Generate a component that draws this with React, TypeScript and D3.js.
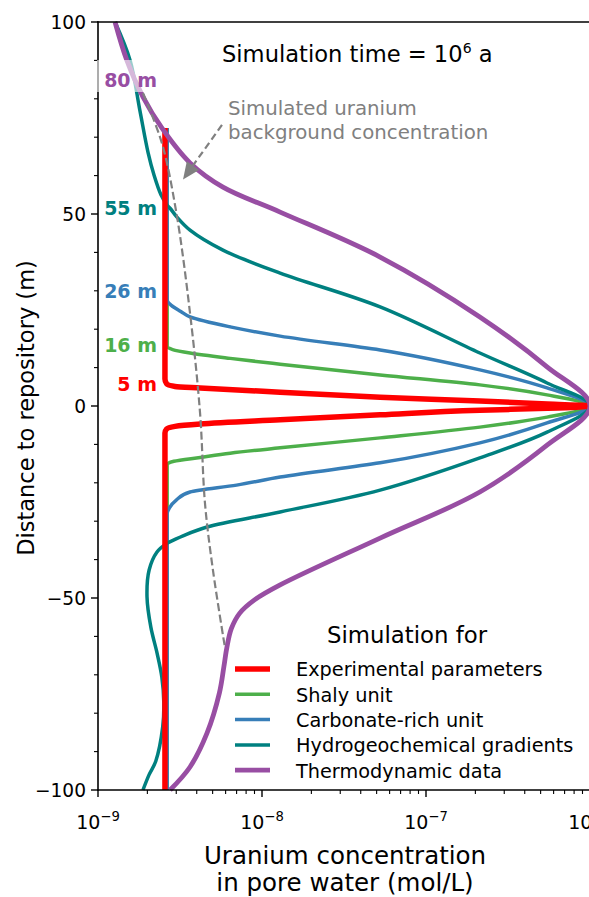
import React from "react";
import * as d3 from "d3";

// [distance to repository (m), uranium concentration (mol/L)]
const experimental: [number, number][] = [
  [72.4, 2.56e-9], [7.0, 2.56e-9], [5.8, 2.62e-9], [5.1, 2.95e-9], [4.7, 4.2e-9], [3.6, 1.29e-8],
  [2.3, 5.25e-8], [1.3, 2.13e-7], [0.5, 5.5e-7], [0, 1e-6], [-0.6, 5.5e-7], [-1.1, 2.13e-7],
  [-2.3, 5.25e-8], [-3.6, 1.29e-8], [-4.7, 4.2e-9], [-5.3, 2.95e-9], [-6.0, 2.62e-9], [-7.0, 2.56e-9],
  [-100, 2.56e-9],
];
const shaly: [number, number][] = [
  [72.4, 2.64e-9], [15.4, 2.64e-9], [14.7, 2.85e-9], [13.8, 3.64e-9], [12.4, 6.4e-9], [10.9, 1.29e-8],
  [8.1, 5.25e-8], [5.5, 2.13e-7], [2.9, 5.47e-7], [0, 1e-6], [-2.9, 5.47e-7], [-5.5, 2.13e-7],
  [-8.3, 5.25e-8], [-10.9, 1.29e-8], [-12.3, 6.4e-9], [-13.4, 4.2e-9], [-14.4, 2.9e-9], [-15.2, 2.64e-9],
  [-100, 2.64e-9],
];
const carbonate: [number, number][] = [
  [72.4, 2.64e-9], [27.6, 2.64e-9], [26.2, 2.8e-9], [24.6, 3.2e-9], [23.2, 3.64e-9], [20.6, 6.4e-9],
  [18.2, 1.29e-8], [14.6, 5.25e-8], [9.4, 2.13e-7], [4.7, 5.47e-7], [0, 1e-6], [-4.4, 5.47e-7],
  [-9.6, 2.13e-7], [-14.8, 5.25e-8], [-18.5, 1.29e-8], [-20.6, 7e-9], [-22.4, 3.64e-9], [-24.5, 3.0e-9],
  [-26.6, 2.72e-9], [-28, 2.64e-9], [-100, 2.64e-9],
];
// teal curve in two parts: above the join and from the join down
const hydroTop: [number, number][] = [
  [100, 1.27e-9], [90, 1.57e-9], [77, 1.8e-9], [66, 2.02e-9], [60, 2.2e-9], [55, 2.42e-9], [52.3, 2.64e-9],
];
const hydro: [number, number][] = [
  [52.3, 2.64e-9], [51.5, 2.75e-9], [49.2, 3.03e-9], [45.8, 3.64e-9], [40.6, 5.78e-9], [34.6, 1.29e-8],
  [25.8, 5.25e-8], [13.8, 2.13e-7], [6.0, 5.47e-7], [0, 1e-6], [-6.8, 5.47e-7], [-13.5, 2.13e-7],
  [-21.9, 5.25e-8], [-27.6, 1.29e-8], [-31.5, 4.62e-9], [-33.8, 3.3e-9], [-35.7, 2.64e-9],
];
const hydroBottom: [number, number][] = [
  [-35.7, 2.64e-9], [-38, 2.29e-9], [-42.7, 2.05e-9], [-49.7, 1.99e-9], [-57.6, 2.1e-9], [-64.3, 2.29e-9],
  [-70.6, 2.45e-9], [-77.3, 2.52e-9], [-83.6, 2.48e-9], [-92.5, 2.25e-9], [-96, 2.05e-9], [-100, 1.88e-9],
];
const thermo: [number, number][] = [
  [100, 1.27e-9], [90, 1.5e-9], [80.5, 1.88e-9], [72.4, 2.45e-9], [63.3, 3.64e-9], [57, 5.78e-9],
  [50.5, 1.29e-8], [38.8, 5.25e-8], [23.2, 2.13e-7], [10.2, 5.47e-7], [0, 1e-6], [-10.2, 5.47e-7],
  [-22.4, 2.13e-7], [-34.4, 5.25e-8], [-46.6, 1.29e-8], [-50.5, 9.0e-9], [-54, 7.3e-9], [-58, 6.5e-9],
  [-63, 6.1e-9], [-68, 5.85e-9], [-74.7, 5.5e-9], [-85.2, 4.62e-9], [-94, 3.64e-9], [-100, 2.75e-9],
];
const background: [number, number][] = [
  [81.5, 1.88e-9], [68.5, 2.45e-9], [50.5, 3.0e-9], [24.2, 3.64e-9], [-1.8, 4.19e-9],
  [-25.3, 4.49e-9], [-42.7, 5.02e-9], [-62.8, 5.94e-9],
];

const legendLabels = [
  "Experimental parameters",
  "Shaly unit",
  "Carbonate-rich unit",
  "Hydrogeochemical gradients",
  "Thermodynamic data",
];
const depthLabels = ["80 m", "55 m", "26 m", "16 m", "5 m"];
const depthLabelAt = [83.1, 49.7, 28.1, 14.1, 3.9];
const yTicks = [-100, -50, 0, 50, 100];
const xDecades = [-9, -8, -7, -6];

const font = "DejaVu Sans, Verdana, sans-serif";
const colors = ["#ff0000", "#4daf4a", "#377eb8", "#008080", "#984ea3"];
const widths = [5.5, 3.5, 3.5, 3.5, 4.8];

const App = () => {
  const W = 589;
  const H = 897;
  const x = d3.scaleLog().domain([1e-9, 1e-6]).range([98, 590]);
  const y = d3.scaleLinear().domain([-100, 100]).range([790, 22]);

  const lineMono = d3
    .line<[number, number]>()
    .x((d) => x(d[1]))
    .y((d) => y(d[0]))
    .curve(d3.curveMonotoneY);
  const lineSmooth = d3
    .line<[number, number]>()
    .x((d) => x(d[1]))
    .y((d) => y(d[0]))
    .curve(d3.curveCatmullRom.alpha(0.5));

  const paths = [
    { d: lineMono(shaly), i: 1 },
    { d: lineMono(carbonate), i: 2 },
    { d: lineSmooth(hydroTop), i: 3 },
    { d: lineSmooth(hydro), i: 3 },
    { d: lineSmooth(hydroBottom), i: 3 },
    { d: lineMono(experimental), i: 0 },
    { d: lineSmooth(thermo), i: 4 },
  ];

  const minorX: number[] = [];
  [-9, -8, -7].forEach((k) => {
    for (let m = 2; m <= 9; m++) minorX.push(m * Math.pow(10, k));
  });
  const minorY = d3.range(-90, 100, 10).filter((v) => v % 50 !== 0);

  // annotation arrow to the background curve
  const tail = [x(5.7e-9), y(73.2)];
  const tip = [x(3.3e-9), y(59)];
  const dx = tip[0] - tail[0];
  const dy = tip[1] - tail[1];
  const len = Math.hypot(dx, dy);
  const ux = dx / len;
  const uy = dy / len;
  const hl = 17;
  const hw = 7.5;
  const base = [tip[0] - ux * hl, tip[1] - uy * hl];
  const head = `M${tip[0]},${tip[1]} L${base[0] - uy * hw},${base[1] + ux * hw} L${base[0] + uy * hw},${base[1] - ux * hw} Z`;

  const legY = (i: number) => 669 + i * 25.3;

  return (
    <svg
      width={W}
      height={H}
      style={{ position: "absolute", left: 0, top: 0, display: "block", background: "#fff" }}
      fontFamily={font}
    >
      <rect width={W} height={H} fill="#fff" />

      {paths.map((p, k) => (
        <path
          key={k}
          d={p.d || ""}
          fill="none"
          stroke={colors[p.i]}
          strokeWidth={widths[p.i]}
          strokeLinejoin="round"
        />
      ))}
      <path
        d={lineSmooth(background) || ""}
        fill="none"
        stroke="#808080"
        strokeWidth={2.2}
        strokeDasharray="8,3.5"
      />

      {/* spines */}
      <line x1={98} x2={98} y1={21.2} y2={790.8} stroke="#000" strokeWidth={1.6} />
      <line x1={97.2} x2={W} y1={22} y2={22} stroke="#000" strokeWidth={1.6} />
      <line x1={97.2} x2={W} y1={790} y2={790} stroke="#000" strokeWidth={1.6} />

      {/* y ticks */}
      {yTicks.map((t) => (
        <g key={t}>
          <line x1={91} x2={98} y1={y(t)} y2={y(t)} stroke="#000" strokeWidth={1.4} />
          <text x={86} y={y(t) + 6.5} fontSize={18.6} textAnchor="end">
            {t < 0 ? `\u2212${Math.abs(t)}` : t}
          </text>
        </g>
      ))}
      {minorY.map((t) => (
        <line key={t} x1={94} x2={98} y1={y(t)} y2={y(t)} stroke="#000" strokeWidth={1.1} />
      ))}

      {/* x ticks */}
      {xDecades.map((k) => (
        <g key={k}>
          <line x1={x(Math.pow(10, k))} x2={x(Math.pow(10, k))} y1={790} y2={797} stroke="#000" strokeWidth={1.4} />
          <text x={x(Math.pow(10, k))} y={829} fontSize={19} textAnchor="middle">
            10
            <tspan dy={-8} fontSize={13.2}>{`\u2212${Math.abs(k)}`}</tspan>
          </text>
        </g>
      ))}
      {minorX.map((v) => (
        <line key={v} x1={x(v)} x2={x(v)} y1={790} y2={794} stroke="#000" strokeWidth={1.1} />
      ))}

      {/* axis titles */}
      <text x={345} y={864} fontSize={24.5} textAnchor="middle">
        Uranium concentration
      </text>
      <text x={345} y={891} fontSize={24.5} textAnchor="middle">
        in pore water (mol/L)
      </text>
      <text transform="translate(34,408) rotate(-90)" fontSize={22.5} textAnchor="middle">
        Distance to repository (m)
      </text>

      {/* title inside */}
      <text x={222} y={61.5} fontSize={22.6}>
        Simulation time = 10
        <tspan dy={-9} fontSize={14}>6</tspan>
        <tspan dy={9}> a</tspan>
      </text>

      {/* annotation */}
      <text x={228} y={115} fontSize={19.8} fill="#808080">
        Simulated uranium
      </text>
      <text x={228} y={139} fontSize={19.8} fill="#808080">
        background concentration
      </text>
      <line
        x1={tail[0]}
        y1={tail[1]}
        x2={base[0]}
        y2={base[1]}
        stroke="#808080"
        strokeWidth={2.2}
        strokeDasharray="7,4"
      />
      <path d={head} fill="#808080" />

      {/* depth labels */}
      <rect x={97} y={60} width={63} height={32} fill="#fff" opacity={0.6} />
      {depthLabels.map((lab, i) => (
        <text
          key={lab}
          x={157}
          y={y(depthLabelAt[i])}
          fontSize={19}
          fontWeight="bold"
          textAnchor="end"
          fill={[colors[4], colors[3], colors[2], colors[1], colors[0]][i]}
        >
          {lab}
        </text>
      ))}

      {/* legend */}
      <text x={327} y={643} fontSize={22.8}>
        Simulation for
      </text>
      {legendLabels.map((lab, i) => (
        <g key={lab}>
          <line x1={235} x2={270} y1={legY(i)} y2={legY(i)} stroke={colors[i]} strokeWidth={widths[i]} />
          <text x={296} y={legY(i) + 7.3} fontSize={19.3}>
            {lab}
          </text>
        </g>
      ))}
    </svg>
  );
};

export default App;
